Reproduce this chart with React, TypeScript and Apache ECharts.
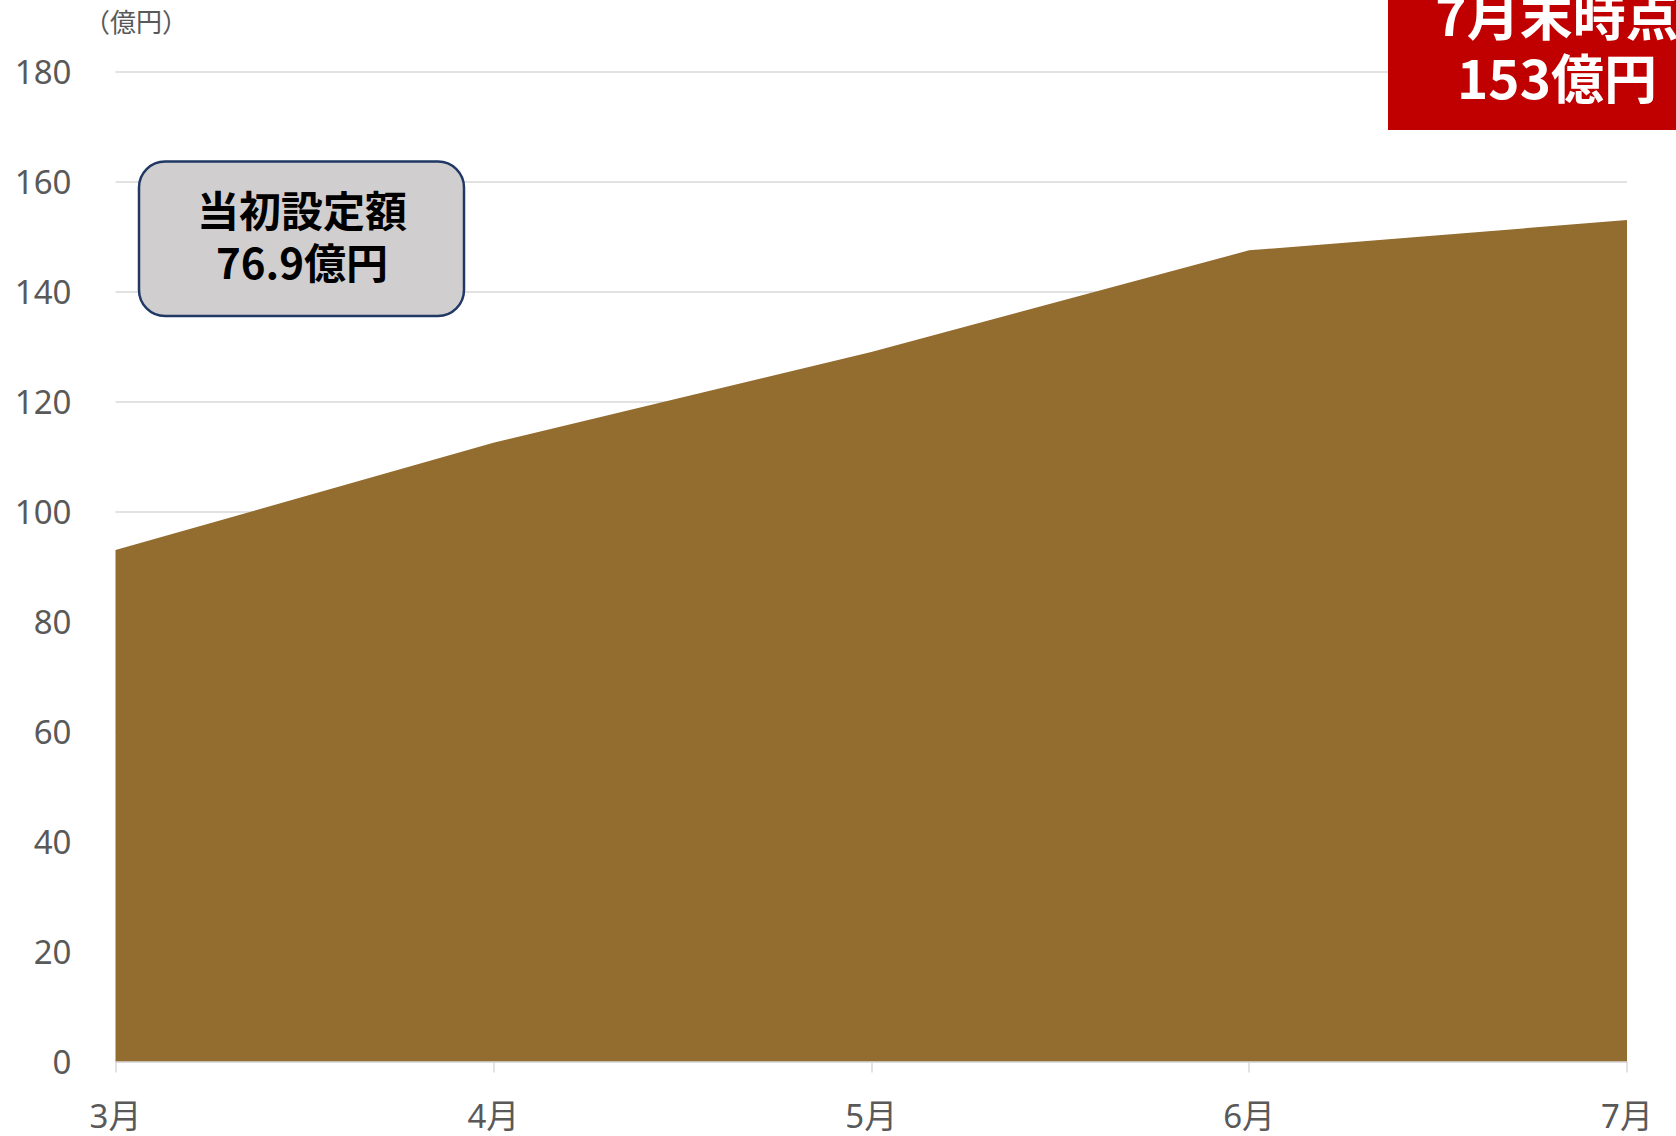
import React, { useEffect, useRef } from "react";
import * as echarts from "echarts";

const months = ["3月", "4月", "5月", "6月", "7月"];
const amounts = [93, 112.5, 129, 147.5, 153];
const unitLabel = "（億円）";
const initialLines = ["当初設定額", "76.9億円"];
const currentLines = ["7月末時点", "153億円"];

const FONT = "'Noto Sans CJK JP', 'Noto Sans', sans-serif";
const NUMFONT = "'Noto Sans', 'Noto Sans CJK JP', sans-serif";

export default function App() {
  const ref = useRef<HTMLDivElement>(null);
  useEffect(() => {
    if (!ref.current) return;
    const chart = echarts.init(ref.current, null, { renderer: "svg" });
    chart.setOption({
      animation: false,
      backgroundColor: "#ffffff",
      grid: { left: 115.5, right: 49, top: 71.6, bottom: 74.5 },
      xAxis: {
        type: "category",
        data: months,
        boundaryGap: false,
        axisLine: { lineStyle: { color: "#d9d9d9", width: 1.5 } },
        axisTick: { show: true, length: 11, lineStyle: { color: "#d9d9d9", width: 1.5 } },
        axisLabel: { color: "#595959", fontSize: 33, fontFamily: NUMFONT, margin: 37 },
        splitLine: { show: false },
      },
      yAxis: {
        type: "value",
        min: 0,
        max: 180,
        interval: 20,
        axisLine: { show: false },
        axisTick: { show: false },
        axisLabel: { color: "#595959", fontSize: 33, fontFamily: NUMFONT, margin: 44 },
        splitLine: { lineStyle: { color: "#d9d9d9", width: 1.5 } },
      },
      series: [
        {
          type: "line",
          data: amounts,
          showSymbol: false,
          symbol: "none",
          lineStyle: { width: 0 },
          areaStyle: { color: "#936d30", opacity: 1 },
          z: 3,
        },
      ],
      graphic: [
        {
          type: "text",
          x: 136,
          y: 20,
          style: {
            text: unitLabel,
            font: `26px ${FONT}`,
            fill: "#595959",
            textAlign: "center",
            textVerticalAlign: "middle",
          },
        },
        {
          type: "rect",
          shape: { x: 139, y: 161.5, width: 325, height: 154.5, r: 26 },
          style: { fill: "#d0cece", stroke: "#1f3864", lineWidth: 2.5 },
          z: 10,
        },
        {
          type: "text",
          x: 302,
          y: 208,
          z: 11,
          style: {
            text: initialLines[0],
            font: `bold 42px ${FONT}`,
            fill: "#000000",
            textAlign: "center",
            textVerticalAlign: "middle",
          },
        },
        {
          type: "text",
          x: 302,
          y: 260,
          z: 11,
          style: {
            text: initialLines[1],
            font: `bold 42px ${FONT}`,
            fill: "#000000",
            textAlign: "center",
            textVerticalAlign: "middle",
          },
        },
        {
          type: "rect",
          shape: { x: 1388, y: -10, width: 300, height: 140 },
          style: { fill: "#c00000" },
          z: 10,
        },
        {
          type: "text",
          x: 1557,
          y: 13,
          z: 11,
          style: {
            text: currentLines[0],
            font: `bold 53px ${FONT}`,
            fill: "#ffffff",
            textAlign: "center",
            textVerticalAlign: "middle",
          },
        },
        {
          type: "text",
          x: 1557,
          y: 76,
          z: 11,
          style: {
            text: currentLines[1],
            font: `bold 53px ${FONT}`,
            fill: "#ffffff",
            textAlign: "center",
            textVerticalAlign: "middle",
          },
        },
      ],
    });
    return () => chart.dispose();
  }, []);
  return (
    <div
      ref={ref}
      style={{ position: "fixed", left: 0, top: 0, width: 1676, height: 1136 }}
    />
  );
}
